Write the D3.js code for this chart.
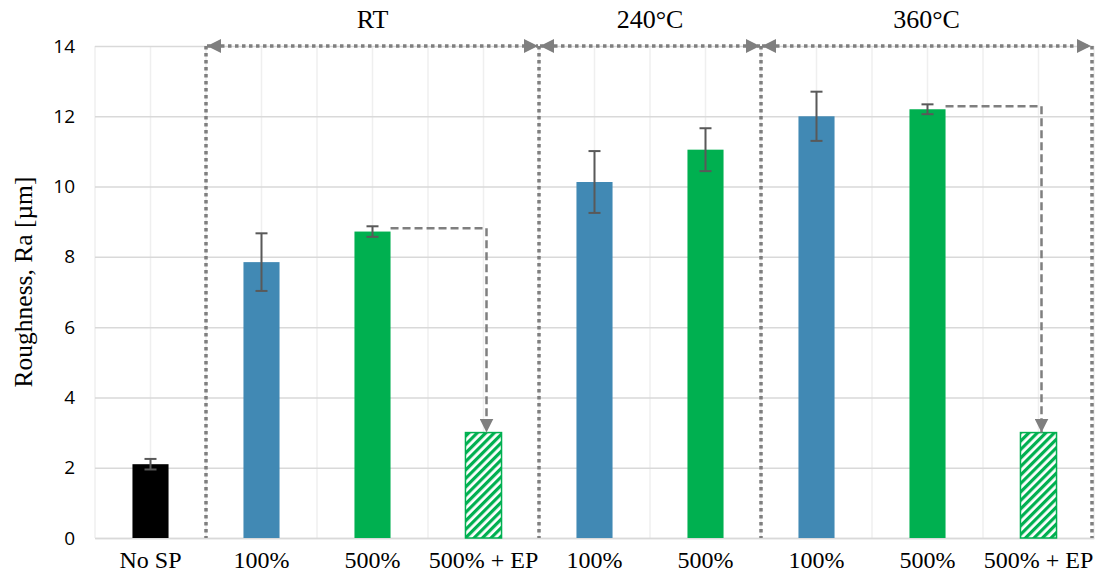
<!DOCTYPE html>
<html>
<head>
<meta charset="utf-8">
<script src="https://cdn.jsdelivr.net/npm/d3@7"></script>
<style>
  html, body { margin: 0; padding: 0; background: #fff; }
  svg { display: block; }
</style>
</head>
<body>
<svg id="chart" width="1100" height="579"></svg>
<script>
// Category labels along the x axis
const categories = ["No SP", "100%", "500%", "500% + EP", "100%", "500%", "100%", "500%", "500% + EP"];
// Mean roughness Ra (µm) per category
const values = [2.1, 7.85, 8.72, 3.0, 10.13, 11.05, 12.0, 12.2, 3.0];
// Standard deviation per category (null = no error bar)
const errors = [0.15, 0.82, 0.15, null, 0.88, 0.61, 0.7, 0.14, null];
// Fill style per bar
const kinds = ["none", "p100", "p500", "ep", "p100", "p500", "p100", "p500", "ep"];
// Temperature groups: first / last category index of each bracket
const groups = ["RT", "240°C", "360°C"];
const groupStart = [1, 4, 6];
const groupEnd = [3, 5, 8];
// Electropolishing arrows: from bar index to bar index
const epFrom = [2, 7];
const epTo = [3, 8];
const yTicks = [0, 2, 4, 6, 8, 10, 12, 14];

const svg = d3.select("#chart");
const margin = { left: 95, right: 6, top: 46, bottom: 41 };
const W = 1100, H = 579;
const serif = "'Liberation Serif', 'Times New Roman', serif";

const x = d3.scaleBand()
  .domain(d3.range(categories.length))
  .range([margin.left, W - margin.right])
  .paddingInner(0).paddingOuter(0);
const y = d3.scaleLinear().domain([0, 14]).range([H - margin.bottom, margin.top]);
const barW = x.bandwidth() * 0.325;
const cx = i => x(i) + x.bandwidth() / 2;
const edge = b => b >= categories.length ? W - margin.right - 2 : x(b);

const colors = { none: "#000000", p100: "#4189b4", p500: "#00b050" };
const grey = "#7f7f7f";

// Hatch pattern and arrowheads
const defs = svg.append("defs");
const pat = defs.append("pattern")
  .attr("id", "hatch").attr("patternUnits", "userSpaceOnUse")
  .attr("width", 6).attr("height", 6)
  .attr("patternTransform", "rotate(45)");
pat.append("rect").attr("width", 6).attr("height", 6).attr("fill", "#fff");
pat.append("rect").attr("width", 3.2).attr("height", 6).attr("fill", "#00b050");

defs.append("marker")
  .attr("id", "head").attr("viewBox", "0 0 10 10")
  .attr("refX", 10).attr("refY", 5)
  .attr("markerWidth", 14).attr("markerHeight", 14)
  .attr("markerUnits", "userSpaceOnUse")
  .attr("orient", "auto-start-reverse")
  .append("path").attr("d", "M0,0 L10,5 L0,10 Z").attr("fill", grey);

// Vertical gridlines at category centres and boundaries
const vGrid = [];
for (let i = 0; i <= categories.length; i++) vGrid.push(margin.left + i * x.bandwidth());
for (let i = 0; i < categories.length; i++) vGrid.push(cx(i));
svg.append("g").selectAll("line").data(vGrid).join("line")
  .attr("x1", d => d).attr("x2", d => d)
  .attr("y1", y(14)).attr("y2", y(0))
  .attr("stroke", "#efefef").attr("stroke-width", 1.5);

// Horizontal gridlines via y axis
const yAxis = svg.append("g")
  .attr("transform", `translate(${margin.left},0)`)
  .call(d3.axisLeft(y).tickValues(yTicks).tickSize(-(W - margin.left - margin.right)).tickPadding(20));
yAxis.select(".domain").remove();
yAxis.selectAll(".tick line").attr("stroke", "#d9d9d9").attr("stroke-width", 1.5);
yAxis.selectAll(".tick text")
  .attr("font-family", "'Open Sans', sans-serif").attr("font-size", 19).attr("fill", "#000");

// x axis labels
const xAxis = svg.append("g")
  .attr("transform", `translate(0,${y(0)})`)
  .call(d3.axisBottom(x).tickFormat(i => categories[i]).tickSize(0));
xAxis.select(".domain").attr("stroke", "#d9d9d9").attr("stroke-width", 1.5);
xAxis.selectAll(".tick text")
  .attr("y", 30).attr("dy", null)
  .attr("font-family", serif)
  .attr("font-size", 24).attr("fill", "#000");

// Bars
svg.append("g").selectAll("rect").data(values).join("rect")
  .attr("x", (d, i) => cx(i) - barW / 2)
  .attr("width", barW)
  .attr("y", d => y(d))
  .attr("height", d => y(0) - y(d))
  .attr("fill", (d, i) => kinds[i] === "ep" ? "url(#hatch)" : colors[kinds[i]])
  .attr("stroke", (d, i) => kinds[i] === "ep" ? "#00b050" : "none")
  .attr("stroke-width", 1.5);

// Error bars
const eb = svg.append("g").attr("stroke", "#595959").attr("stroke-width", 2);
values.forEach((v, i) => {
  const e = errors[i];
  if (e == null) return;
  const c = cx(i);
  eb.append("line").attr("x1", c).attr("x2", c).attr("y1", y(v + e)).attr("y2", y(v - e));
  eb.append("line").attr("x1", c - 6).attr("x2", c + 6).attr("y1", y(v + e)).attr("y2", y(v + e));
  eb.append("line").attr("x1", c - 6).attr("x2", c + 6).attr("y1", y(v - e)).attr("y2", y(v - e));
});

// Group brackets: dotted verticals and double-headed arrows
const dot = svg.append("g").attr("stroke", grey).attr("stroke-width", 3.5)
  .attr("stroke-dasharray", "3.5,3.5").attr("fill", "none");
const bounds = [groupStart[0], ...groupEnd.map(e => e + 1)];
bounds.forEach(b => {
  const xx = edge(b);
  dot.append("line").attr("x1", xx).attr("x2", xx).attr("y1", y(14)).attr("y2", y(0));
});
groups.forEach((g, k) => {
  const x0 = edge(groupStart[k]);
  const x1 = edge(groupEnd[k] + 1);
  dot.append("line")
    .attr("x1", x0 + 1).attr("x2", x1 - 1)
    .attr("y1", y(14)).attr("y2", y(14))
    .attr("marker-start", "url(#head)").attr("marker-end", "url(#head)");
  svg.append("text")
    .attr("x", (x0 + x1) / 2).attr("y", 28)
    .attr("text-anchor", "middle")
    .attr("font-family", serif)
    .attr("font-size", 26).attr("fill", "#000")
    .text(g);
});

// Dashed elbow arrows from the 500% bars to the electropolished bars
const dash = svg.append("g").attr("stroke", grey).attr("stroke-width", 2.5)
  .attr("stroke-dasharray", "8,4").attr("fill", "none");
epFrom.forEach((f, k) => {
  const t = epTo[k];
  const yTop = y(values[f] + errors[f]) + 2;
  const xs = cx(f) + barW / 2;
  const xt = cx(t) + 3;
  dash.append("path")
    .attr("d", `M${xs},${yTop} H${xt} V${y(values[t])}`)
    .attr("marker-end", "url(#head)");
});

// y axis title
svg.append("text")
  .attr("transform", `translate(32,${(y(0) + y(14)) / 2 - 10}) rotate(-90)`)
  .attr("text-anchor", "middle")
  .attr("font-family", serif)
  .attr("font-size", 25.5).attr("fill", "#000")
  .text("Roughness, Ra [µm]");
</script>
</body>
</html>
